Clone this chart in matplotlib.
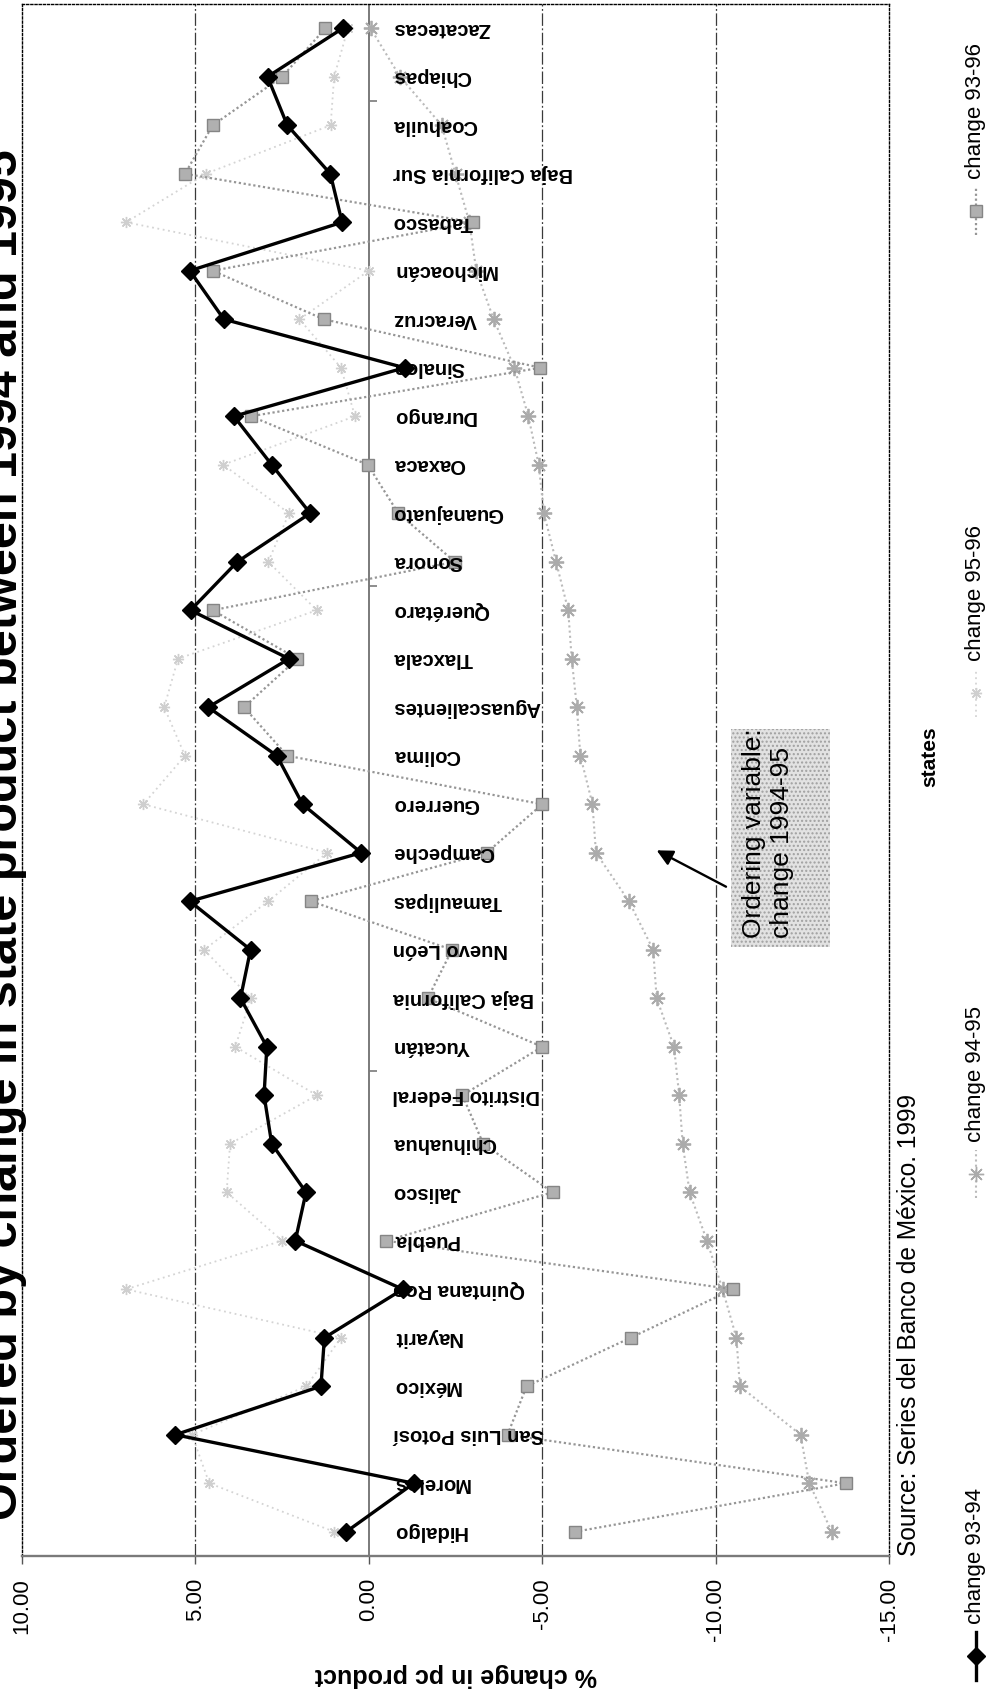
import numpy as np
import matplotlib
matplotlib.use("Agg")
import matplotlib.pyplot as plt
from matplotlib import transforms
from matplotlib.patches import Rectangle

plt.rcParams['font.family'] = ['Liberation Sans', 'DejaVu Sans']
plt.rcParams['hatch.linewidth'] = 1.0

# ---------------- data (bottom -> top) ----------------
states = ["Hidalgo", "Morelos", "San Luis Potosí", "México", "Nayarit", "Quintana Roo",
          "Puebla", "Jalisco", "Chihuahua", "Distrito Federal", "Yucatán", "Baja California",
          "Nuevo León", "Tamaulipas", "Campeche", "Guerrero", "Colima", "Aguascalientes",
          "Tlaxcala", "Querétaro", "Sonora", "Guanajuato", "Oaxaca", "Durango", "Sinaloa",
          "Veracruz", "Michoacán", "Tabasco", "Baja California Sur", "Coahuila", "Chiapas",
          "Zacatecas"]

chg_93_94 = [0.65, -1.3, 5.58, 1.38, 1.28, -0.98, 2.12, 1.81, 2.80, 3.02, 2.94, 3.70,
             3.41, 5.16, 0.22, 1.91, 2.65, 4.63, 2.30, 5.14, 3.79, 1.69, 2.80, 3.89, -1.03,
             4.18, 5.16, 0.77, 1.11, 2.35, 2.92, 0.75]

chg_94_95 = [-13.35, -12.7, -12.45, -10.7, -10.6, -10.2, -9.75, -9.25, -9.05, -8.95, -8.8,
             -8.3, -8.2, -7.5, -6.55, -6.45, -6.1, -6.0, -5.85, -5.75, -5.4, -5.05, -4.9,
             -4.6, -4.2, -3.6, -3.1, -2.9, -2.5, -2.1, -0.9, -0.05]

chg_95_96 = [1.0, 4.6, 5.1, 1.8, 0.8, 7.0, 2.5, 4.1, 4.0, 1.5, 3.85, 3.4, 4.75, 2.9, 1.2,
             6.5, 5.3, 5.9, 5.5, 1.5, 2.9, 2.3, 4.2, 0.4, 0.8, 2.0, 0.0, 7.0, 4.7, 1.1, 1.0,
             0.6]

chg_93_96 = [-5.95, -13.75, -4.0, -4.55, -7.55, -10.5, -0.5, -5.3, -3.3, -2.7, -5.0, -1.7,
             -2.4, 1.67, -3.4, -5.0, 2.35, 3.6, 2.06, 4.5, -2.48, -0.85, 0.03, 3.4, -4.95,
             1.3, 4.5, -3.0, 5.3, 4.5, 2.5, 1.25]

value_ticks = [10, 5, 0, -5, -10, -15]
grid_values = [5, -5, -10]
series_labels = ["change 93-94", "change 94-95", "change 95-96", "change 93-96"]
title = "Ordered by change in state product between 1994 and 1995"
source = "Source: Series del Banco de México. 1999"
axis_title = "% change in pc product"
cat_title = "states"
note = "Ordering variable:\nchange 1994-95"

# ---------------- figure ----------------
W, H = 995, 1693
fig = plt.figure(figsize=(W / 100, H / 100), dpi=100)
fig.patch.set_facecolor('white')
renderer = fig.canvas.get_renderer()

px_left, px_right, px_top, px_bottom = 22, 889, 4, 1556
ax = fig.add_axes([px_left / W, 1 - px_bottom / H,
                   (px_right - px_left) / W, (px_bottom - px_top) / H])
ax.set_facecolor('white')
n = len(states)
yy = np.arange(n)
ax.set_xlim(value_ticks[0], value_ticks[-1])
ax.set_ylim(-0.5, n - 0.5)

# grid lines and category axis
for g in grid_values:
    ax.axvline(g, color='#3a3a3a', lw=0.9, dashes=(10, 2, 1.5, 2), zorder=1)
ax.axvline(0, color='#7a7a7a', lw=1.4, zorder=1)
ax.hlines([9.5, 19.5, 29.5], 0, -0.25, color='#7a7a7a', lw=1.2, zorder=1)

# series
star = (8, 2, 0)
ax.plot(chg_95_96, yy, ls=(0, (1, 2)), color='#d4d4d4', lw=1.3, marker=star,
        ms=8, mec='#cfcfcf', zorder=2)
ax.plot(chg_94_95, yy, ls=(0, (1, 1.5)), color='#bababa', lw=1.5, marker=star,
        ms=11, mec='#ababab', mew=1.3, zorder=3)
ax.plot(chg_93_96, yy, ls=(0, (1, 1.2)), color='#969696', lw=1.6, marker='s',
        ms=9, mfc='#b0b0b0', mec='#858585', mew=1, zorder=4)
ax.plot(chg_93_94, yy, ls='-', color='black', lw=2.4, marker='D', ms=9,
        mfc='black', mec='black', zorder=6)

# category labels (upside down)
lab_tr = transforms.offset_copy(ax.transData, fig=fig, x=24, y=0, units='dots')
for i, s in enumerate(states):
    ax.text(0, i, s, rotation=180, ha='left', va='center', fontsize=14.5,
            fontweight='bold', transform=lab_tr, zorder=5)

# axes styling
ax.set_yticks([])
ax.set_xticks(value_ticks)
ax.set_xticklabels([f"{v:.2f}" for v in value_ticks], rotation=90, fontsize=16)
ax.tick_params(axis='x', direction='out', length=6, width=1, color='#555555', pad=10)
for side in ['top', 'left', 'right']:
    ax.spines[side].set_linestyle((0, (1.5, 1.5)))
    ax.spines[side].set_color('black')
    ax.spines[side].set_linewidth(1.0)
ax.spines['bottom'].set_color('#7a7a7a')
ax.spines['bottom'].set_linewidth(1.7)

# annotation box and arrow
box_v = (-10.45, -13.3)
box_i = (12.05, 16.55)
ax.add_patch(Rectangle((box_v[0], box_i[0]), box_v[1] - box_v[0], box_i[1] - box_i[0],
                       facecolor='#e2e2e2', edgecolor='#a0a0a0', hatch='....',
                       linewidth=0, zorder=7))
ax.text(box_v[0] - 0.3, box_i[0] + 0.2, note, rotation=90, ha='left', va='bottom',
        fontsize=19, multialignment='left', linespacing=1.25, zorder=8)
ax.annotate('', xy=(-8.3, 14.05), xytext=(-10.3, 13.3),
            arrowprops=dict(arrowstyle='-|>', color='black', lw=1.7, mutation_scale=24,
                            shrinkA=0, shrinkB=0),
            zorder=8)


def fit_length(txt, target, vertical=True):
    bb = txt.get_window_extent(renderer)
    cur = bb.height if vertical else bb.width
    txt.set_fontsize(txt.get_fontsize() * target / cur)


# figure texts
t_title = fig.text(27 / W, 1 - 1520 / H, title, rotation=90, ha='right', va='bottom',
                   fontsize=32, fontweight='bold')
fit_length(t_title, 1375)
fig.text((px_left + px_right) / 2 / W, 1 - 1675 / H, axis_title, rotation=180,
         ha='center', va='center', fontsize=18, fontweight='bold')
t_src = fig.text(897 / W, 1 - 1556 / H, source, rotation=90, ha='left', va='bottom',
                 fontsize=17)
fit_length(t_src, 465)
fig.text(930 / W, 1 - 757 / H, cat_title, rotation=90, ha='center', va='center',
         fontsize=15, fontweight='bold')

# legend (rotated, drawn in pixel space)
lg = fig.add_axes([0, 0, 1, 1], facecolor='none')
lg.set_xlim(0, W)
lg.set_ylim(H, 0)
lg.axis('off')
legend_x = 976
legend_starts = [1680, 1198, 717, 235]
styles = [dict(ls='-', color='black', lw=2.4, marker='D', ms=9, mfc='black', mec='black'),
          dict(ls=(0, (1, 1.5)), color='#bababa', lw=1.5, marker=star, ms=11, mec='#ababab'),
          dict(ls=(0, (1, 2)), color='#d4d4d4', lw=1.3, marker=star, ms=8, mec='#cfcfcf'),
          dict(ls=(0, (1, 1.2)), color='#969696', lw=1.6, marker='s', ms=9, mfc='#b0b0b0',
               mec='#858585')]
for y0, lab, st in zip(legend_starts, series_labels, styles):
    line_st = {k: v for k, v in st.items() if k not in ('marker', 'ms', 'mfc', 'mec')}
    mark_st = {k: v for k, v in st.items() if k not in ('ls', 'lw', 'color')}
    lg.plot([legend_x, legend_x], [y0, y0 - 48], **line_st)
    lg.plot([legend_x], [y0 - 24], ls='none', color=st['color'], **mark_st)
    lg.text(legend_x, y0 - 56, lab, rotation=90, ha='center', va='bottom', fontsize=16)

fig.savefig('out.png', dpi=100, facecolor='white')
